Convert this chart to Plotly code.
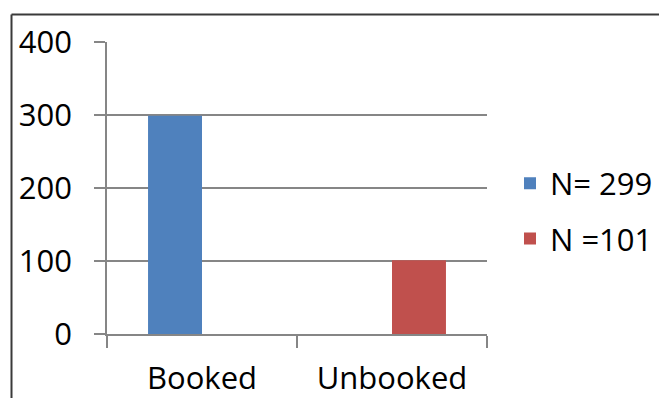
import plotly.graph_objects as go

categories = ["Booked", "Unbooked"]
series_names = ["N= 299", "N =101"]
booked_values = [299, None]
unbooked_values = [None, 101]
colors = ["#4F81BD", "#C0504D"]
y_ticks = [0, 100, 200, 300, 400]

W, H = 659, 398
L, R, T, B = 107, 172, 42, 64
pw, ph = W - L - R, H - T - B

def px_x(x):
    return (x - L) / pw

def px_y(y):
    return (H - B - y) / ph

font = dict(family="Open Sans", size=31, color="#000000")

fig = go.Figure()
fig.add_trace(go.Bar(x=categories, y=booked_values, name=series_names[0],
                     marker=dict(color=colors[0], line=dict(width=0)),
                     legendgroup="a"))
fig.add_trace(go.Bar(x=categories, y=unbooked_values, name=series_names[1],
                     marker=dict(color=colors[1], line=dict(width=0)),
                     legendgroup="b"))

fig.update_layout(
    width=W, height=H,
    margin=dict(l=L, r=R, t=T, b=B, pad=0, autoexpand=False),
    paper_bgcolor="white", plot_bgcolor="white",
    barmode="group", bargap=0.432, bargroupgap=0,
    font=font,
    showlegend=True,
    legend=dict(x=px_x(510), y=px_y(211), xanchor="left", yanchor="middle",
                font=font, tracegroupgap=12, bgcolor="rgba(0,0,0,0)",
                itemwidth=30),
    xaxis=dict(type="category", showgrid=False, showline=True,
               linecolor="#868686", linewidth=1.5,
               ticks="outside", tickson="boundaries", ticklen=12,
               tickcolor="#868686", tickwidth=1.5,
               ticklabelstandoff=16, tickfont=font),
    yaxis=dict(range=[0, 400], tickvals=y_ticks, showgrid=True,
               gridcolor="#868686", gridwidth=1.5,
               showline=True, linecolor="#868686", linewidth=1.5,
               ticks="outside", ticklen=11, tickcolor="#868686", tickwidth=1.5,
               zeroline=False, ticklabelstandoff=16, tickfont=font),
    shapes=[
        dict(type="line", xref="paper", yref="paper",
             x0=px_x(11.5), x1=px_x(659), y0=px_y(14.5), y1=px_y(14.5),
             line=dict(color="#3a3a3a", width=2)),
        dict(type="line", xref="paper", yref="paper",
             x0=px_x(11.5), x1=px_x(11.5), y0=px_y(14.5), y1=px_y(398),
             line=dict(color="#3a3a3a", width=2)),
    ],
)

fig.write_html("out.html")
